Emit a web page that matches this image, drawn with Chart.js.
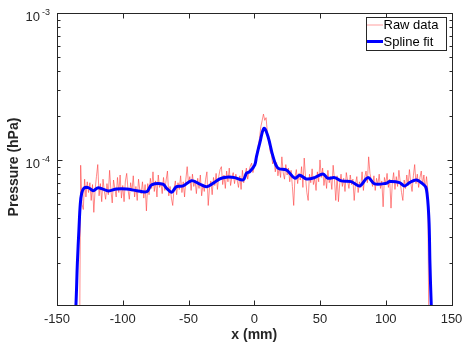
<!DOCTYPE html>
<html>
<head>
<meta charset="utf-8">
<script src="https://cdn.jsdelivr.net/npm/chart.js@4.4.1/dist/chart.umd.min.js"></script>
<style>
  html, body { margin: 0; padding: 0; background: #fff; }
  canvas { display: block; }
</style>
</head>
<body>
<canvas id="chart" width="469" height="345"></canvas>
<script>
// raw measurement, one sample per mm starting at rawStartX, values in units of 1e-5 hPa
const rawStartX = -133;
const rawValues = [
  0.3, 9.2, 5.0, 4.6, 7.4, 5.6, 7.1, 6.0, 7.0, 5.3, 6.8, 4.4, 6.3, 7.7, 9.3, 5.7, 6.9, 5.2, 7.4, 6.1,
  5.4, 6.9, 5.8, 8.5, 6.2, 5.1, 7.3, 6.4, 5.6, 7.6, 6.0, 7.9, 5.5, 6.7, 5.2, 7.2, 8.1, 6.3, 5.4, 7.0,
  6.1, 7.8, 5.6, 6.6, 5.3, 7.4, 6.2, 5.9, 7.1, 5.5, 6.8, 4.5, 6.9, 5.8, 7.5, 6.4, 8.3, 6.1, 7.2, 5.6,
  7.9, 6.5, 7.0, 5.9, 7.6, 6.2, 7.3, 8.4, 5.7, 6.6, 5.5, 4.9, 6.4, 7.2, 5.8, 7.0, 6.3, 7.8, 6.0, 7.1,
  5.6, 7.4, 9.0, 6.9, 7.7, 6.2, 8.0, 6.6, 7.3, 5.9, 7.5, 6.4, 7.9, 5.7, 6.8, 6.1, 7.4, 8.3, 4.9, 6.5,
  7.2, 5.8, 7.6, 6.7, 8.1, 6.3, 7.7, 8.6, 9.0, 6.8, 7.9, 6.4, 8.4, 7.1, 8.8, 6.7, 7.6, 8.2, 6.9, 8.0,
  7.3, 6.5, 7.8, 6.3, 8.5, 7.0, 7.9, 8.8, 7.4, 8.4, 9.1, 9.5, 8.2, 9.0, 10.4, 11.0, 12.6, 14.0, 16.8, 18.5,
  20.5, 18.6, 19.4, 15.2, 13.8, 11.5, 10.9, 9.4, 10.2, 8.3, 9.6, 7.8, 8.9, 7.6, 10.5, 8.2, 7.4, 9.3, 7.9, 8.8,
  7.1, 8.5, 6.6, 4.9, 7.7, 8.6, 6.9, 8.1, 7.3, 9.0, 6.5, 10.3, 7.6, 6.0, 5.3, 8.0, 7.0, 8.7, 6.8, 7.5,
  6.2, 8.3, 7.1, 10.0, 7.6, 8.8, 6.7, 7.9, 6.4, 8.5, 7.0, 7.7, 6.3, 9.2, 7.4, 5.3, 7.8, 5.2, 6.9, 8.0,
  6.6, 7.5, 6.1, 8.2, 7.2, 6.4, 7.9, 6.8, 7.4, 5.3, 6.9, 7.7, 6.0, 7.1, 6.5, 8.3, 6.2, 7.6, 8.4, 7.0,
  10.5, 8.1, 7.3, 6.6, 7.8, 6.2, 7.5, 6.8, 8.0, 6.4, 7.2, 4.8, 7.6, 6.9, 8.1, 6.5, 7.4, 4.7, 7.0, 8.2,
  6.3, 7.7, 6.6, 8.5, 7.1, 6.0, 5.3, 7.3, 6.4, 7.9, 6.7, 8.6, 7.0, 6.1, 7.8, 9.3, 6.9, 8.0, 6.5, 7.6,
  8.4, 6.8, 7.9, 6.3, 7.7, 6.2, 0.3
];

// spline fit knots (x in mm, value in units of 1e-5 hPa)
const splineX = [
  -136.5, -135.6, -134.5, -133.3, -132.3, -131.2, -129.5, -126.2, -122.4, -118.6, -111.0, -104.7, -97.1,
  -89.3, -81.7, -78.1, -69.3, -66.7, -62.9, -59.1, -54.1, -47.7, -41.4, -36.3, -31.3, -26.2, -21.1,
  -14.8, -8.5, -5.9, -3.4, 0.4, 1.7, 4.2, 7.4, 10.5, 14.3, 18.1, 24.5, 30.8, 34.6, 39.6, 45.9, 52.3,
  56.0, 61.1, 66.2, 73.8, 80.1, 86.4, 91.5, 100.4, 102.9, 110.5, 114.3, 118.1, 123.2, 128.2, 130.8,
  132.8, 133.6, 134.6, 135.3
];
const splineValues = [
  0.8, 1.03, 2.0, 3.4, 5.0, 5.94, 6.42, 6.48, 6.18, 6.48, 6.15, 6.35, 6.35,
  6.18, 6.09, 6.76, 6.84, 6.42, 6.03, 6.58, 6.65, 7.23, 6.84, 6.58, 6.94, 7.43, 7.63,
  7.58, 7.31, 8.12, 8.33, 9.25, 10.53, 13.0, 16.43, 14.4, 10.53, 8.78, 8.55, 7.51, 7.87, 7.43, 7.58, 8.03,
  7.51, 7.58, 7.2, 7.12, 6.65, 7.58, 6.87, 6.94, 7.12, 7.01, 6.65, 7.01, 7.31, 6.87, 6.42,
  4.0, 2.0, 1.03, 0.8
];

const xTicks = [-150, -100, -50, 0, 50, 100, 150];
const yMajorTicks = [1e-4, 1e-3];
const yMinorTicks = [2e-5, 3e-5, 4e-5, 5e-5, 6e-5, 7e-5, 8e-5, 9e-5,
  2e-4, 3e-4, 4e-4, 5e-4, 6e-4, 7e-4, 8e-4, 9e-4];
const yTickLabels = [["10", "-4"], ["10", "-3"]];

const xMin = -150, xMax = 150;
const yMin = 1.03e-5, yMax = 1e-3;

const legendItems = [
  { text: "Raw data", color: "rgba(255,80,80,0.55)", width: 1 },
  { text: "Spline fit", color: "#0000ff", width: 3 }
];

const rawPoints = rawValues.map((v, i) => ({ x: rawStartX + i, y: v * 1e-5 }));
const splinePoints = splineX.map((x, i) => ({ x: x, y: splineValues[i] * 1e-5 }));

const AXIS_COLOR = "#262626";
const FONT = '"Liberation Sans", Arial, Helvetica, sans-serif';

// axes, ticks, labels and legend drawn by hand in MATLAB style
const matlabAxes = {
  id: "matlabAxes",
  afterDraw(chart) {
    const ctx = chart.ctx;
    const a = chart.chartArea;
    const xs = chart.scales.x;
    const ys = chart.scales.y;
    ctx.save();
    ctx.strokeStyle = AXIS_COLOR;
    ctx.lineWidth = 1;
    const L = Math.round(a.left) + 0.5, R = Math.round(a.right) + 0.5;
    const T = Math.round(a.top) + 0.5, B = Math.round(a.bottom) + 0.5;
    ctx.strokeRect(L, T, R - L, B - T);

    ctx.beginPath();
    xTicks.forEach((t) => {
      const px = Math.round(xs.getPixelForValue(t)) + 0.5;
      ctx.moveTo(px, B); ctx.lineTo(px, B - 5);
      ctx.moveTo(px, T); ctx.lineTo(px, T + 5);
    });
    yMajorTicks.forEach((t) => {
      const py = Math.round(ys.getPixelForValue(t)) + 0.5;
      ctx.moveTo(L, py); ctx.lineTo(L + 5, py);
      ctx.moveTo(R, py); ctx.lineTo(R - 5, py);
    });
    yMinorTicks.forEach((t) => {
      const py = Math.round(ys.getPixelForValue(t)) + 0.5;
      ctx.moveTo(L, py); ctx.lineTo(L + 3, py);
      ctx.moveTo(R, py); ctx.lineTo(R - 3, py);
    });
    ctx.stroke();

    ctx.fillStyle = AXIS_COLOR;
    ctx.font = "13px " + FONT;
    ctx.textAlign = "center";
    ctx.textBaseline = "middle";
    xTicks.forEach((t) => {
      ctx.fillText(String(t), xs.getPixelForValue(t), a.bottom + 14);
    });

    yMajorTicks.forEach((t, i) => {
      const py = ys.getPixelForValue(t);
      const [base, exp] = yTickLabels[i];
      ctx.font = "13px " + FONT;
      const wb = ctx.measureText(base).width;
      ctx.font = "9px " + FONT;
      const we = ctx.measureText(exp).width;
      const right = a.left - 7;
      ctx.textAlign = "left";
      ctx.textBaseline = "alphabetic";
      ctx.font = "13px " + FONT;
      ctx.fillText(base, right - we - 2 - wb, py + 8);
      ctx.font = "9px " + FONT;
      ctx.fillText(exp, right - we, py + 2);
    });

    ctx.font = "bold 14px " + FONT;
    ctx.textAlign = "center";
    ctx.textBaseline = "middle";
    ctx.fillText("x (mm)", (a.left + a.right) / 2, a.bottom + 30);
    ctx.save();
    ctx.translate(14, (a.top + a.bottom) / 2 + 8);
    ctx.rotate(-Math.PI / 2);
    ctx.fillText("Pressure (hPa)", 0, 0);
    ctx.restore();

    // legend box
    const lx = 366.5, ly = 17.5, lw = 80, lh = 33;
    ctx.fillStyle = "#fff";
    ctx.fillRect(lx, ly, lw, lh);
    ctx.strokeStyle = AXIS_COLOR;
    ctx.lineWidth = 1;
    ctx.strokeRect(lx, ly, lw, lh);
    legendItems.forEach((item, i) => {
      const cy = 25 + i * 16.5;
      ctx.beginPath();
      ctx.strokeStyle = item.color;
      ctx.lineWidth = item.width;
      ctx.moveTo(367, cy); ctx.lineTo(383, cy);
      ctx.stroke();
      ctx.fillStyle = "#000";
      ctx.font = "13px " + FONT;
      ctx.textAlign = "left";
      ctx.textBaseline = "middle";
      ctx.fillText(item.text, 383.5, cy + 0.5);
    });
    ctx.restore();
  }
};

new Chart(document.getElementById("chart"), {
  type: "line",
  data: {
    datasets: [
      {
        label: "Spline fit",
        data: splinePoints,
        borderColor: "#0000ff",
        borderWidth: 3,
        pointRadius: 0,
        tension: 0.35,
        clip: 0,
        order: 0
      },
      {
        label: "Raw data",
        data: rawPoints,
        borderColor: "rgba(255,60,60,0.6)",
        borderWidth: 1,
        pointRadius: 0,
        tension: 0,
        clip: 0,
        order: 1
      }
    ]
  },
  options: {
    responsive: false,
    animation: false,
    devicePixelRatio: 1,
    layout: { padding: { left: 57, right: 17.5, top: 13, bottom: 40 } },
    plugins: { legend: { display: false }, tooltip: { enabled: false } },
    scales: {
      x: { type: "linear", min: xMin, max: xMax, display: false },
      y: { type: "logarithmic", min: yMin, max: yMax, display: false }
    }
  },
  plugins: [matlabAxes]
});
</script>
</body>
</html>
